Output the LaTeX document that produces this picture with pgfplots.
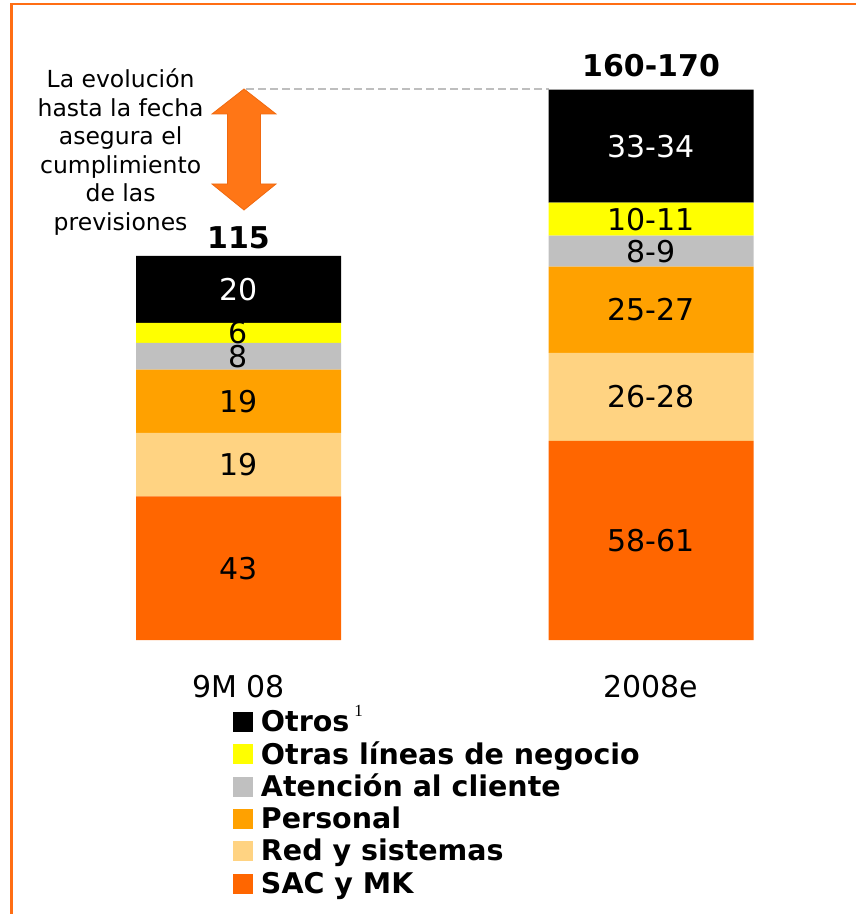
\documentclass[border=0pt]{standalone}
\usepackage{fontspec}
\setmainfont{DejaVu Sans}
\newfontfamily\supfont{Liberation Serif}
\usepackage{pgfplots}
\pgfplotsset{compat=1.18}
\definecolor{sac}{RGB}{255,102,0}
\definecolor{red}{RGB}{255,211,130}
\definecolor{pers}{RGB}{255,161,0}
\definecolor{aten}{RGB}{192,192,192}
\definecolor{otras}{RGB}{255,255,0}
\definecolor{otros}{RGB}{0,0,0}
\definecolor{frameor}{RGB}{255,110,20}
\definecolor{arrowor}{RGB}{255,118,22}
\definecolor{arrowdr}{RGB}{240,105,15}
\definecolor{dashgr}{RGB}{190,190,190}
\pgfplotsset{
  geom/.style={at={(32.25pt,274pt)}, anchor=south west, scale only axis,
    width=825pt, height=567.65pt, xmin=-0.5, xmax=1.5, ymin=0, ymax=170,
    enlargelimits=false, clip=false},
  lbl/.style={draw=none, mark=none, nodes near coords, point meta=explicit symbolic,
    every node near coord/.append style={anchor=center, inner sep=0pt,
      font=\fontsize{30}{36}\selectfont}},
}
\begin{document}
\begin{tikzpicture}[x=1pt,y=1pt]
\useasboundingbox (0,0) rectangle (856,914);
\draw[frameor, line width=2.5] (11.5,0) -- (11.5,910) -- (856,910);
\draw[dashgr, line width=1.5, dash pattern=on 8pt off 4pt] (246,825) -- (549,825);
\begin{axis}[geom,
  ybar stacked, bar width=205pt,
  axis line style={draw=none}, tick style={draw=none},
  ytick=\empty, xtick={0,1}, xticklabels={9M 08,2008e},
  xticklabel style={font=\fontsize{30}{36}\selectfont, anchor=base, yshift=-57pt, inner sep=0pt},
  every axis plot post/.append style={legend image code/.code={\fill[##1] (0pt,-7.3pt) rectangle (20pt,12.7pt);}},
  reverse legend,
  legend cell align=left,
  legend style={at={(0.24333,-0.1228)}, anchor=north west, draw=none, fill=none,
    inner sep=0pt, outer sep=0pt, row sep=2.3pt, column sep=8pt,
    font=\bfseries\fontsize{28.5}{34}\selectfont,
    nodes={text height=21pt, text depth=7pt, inner ysep=1pt, inner xsep=0pt}},
]
\addplot[fill=sac, draw=none] coordinates {(0,43) (1,59.6)};
\addplot[fill=red, draw=none] coordinates {(0,19) (1,26.4)};
\addplot[fill=pers, draw=none] coordinates {(0,19) (1,25.8)};
\addplot[fill=aten, draw=none] coordinates {(0,8) (1,9.3)};
\addplot[fill=otras, draw=none] coordinates {(0,6) (1,9.9)};
\addplot[fill=otros, draw=none] coordinates {(0,20) (1,33.8)};
\legend{SAC y MK, Red y sistemas, Personal, Atención al cliente, Otras líneas de negocio, Otros\kern5pt\raisebox{15.5pt}{\supfont\mdseries\fontsize{17}{17}\selectfont 1}}
\end{axis}
\begin{axis}[geom, hide axis]
\addplot[lbl] coordinates {(0,21.5)[43] (0,52.5)[19] (0,71.5)[19] (0,85)[8] (0,92)[6]
  (1,29.8)[58-61] (1,72.8)[26-28] (1,98.9)[25-27] (1,116.45)[8-9] (1,126.05)[10-11]};
\addplot[lbl, every node near coord/.append style={text=white}] coordinates {(0,105)[20] (1,147.9)[33-34]};
\addplot[lbl, every node near coord/.append style={font=\bfseries\fontsize{30}{36}\selectfont}] coordinates {(0,120.4)[115] (1,171.9)[160-170]};
\end{axis}
\draw[arrowdr, fill=arrowor, line width=0.8] (244,825) -- (276,800) -- (260.5,800) -- (260.5,730) -- (276,730) -- (244,704) -- (212,730) -- (227.5,730) -- (227.5,800) -- (212,800) -- cycle;
\node[anchor=north, align=center, inner sep=0pt, font=\fontsize{23.5}{28.5}\selectfont] at (120.6,845)
  {La evolución\\hasta la fecha\\asegura el\\cumplimiento\\de las\\previsiones};
\end{tikzpicture}
\end{document}
